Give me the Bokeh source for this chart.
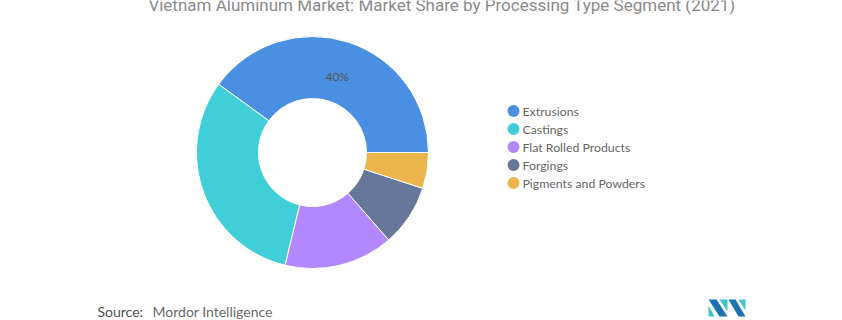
import numpy as np
from bokeh.plotting import figure
from bokeh.models import Range1d, ColumnDataSource
from bokeh.core.properties import value
from bokeh.embed import file_html
from bokeh.resources import INLINE

# ---- data ----
categories = ["Extrusions", "Castings", "Flat Rolled Products", "Forgings", "Pigments and Powders"]
shares = [40.0, 31.2, 15.2, 8.6, 5.0]
colors = ["#4A90E2", "#40CFD9", "#B388FF", "#667799", "#EBB54B"]
shown_labels = ["40%", "", "", "", ""]
title = "Vietnam Aluminum Market: Market Share by Processing Type Segment (2021)"
source_text = "Mordor Intelligence"

# ---- layout ----
W, H = 842, 320
cx, cy = 312, 152
r_out, r_in = 116, 54

p = figure(width=W, height=H, x_range=Range1d(0, W), y_range=Range1d(H, 0),
           output_backend="svg", toolbar_location=None,
           x_axis_location=None, y_axis_location=None, min_border=0)
p.grid.visible = False
p.outline_line_color = None
p.background_fill_color = "white"
p.border_fill_color = "white"

vals = np.array(shares)
frac = vals / vals.sum()
ends = np.cumsum(frac) * 2 * np.pi
starts = ends - frac * 2 * np.pi
src = ColumnDataSource(dict(start=starts, end=ends, color=colors, cat=categories))
p.annular_wedge(x=cx, y=cy, inner_radius=r_in, outer_radius=r_out,
                start_angle="start", end_angle="end", direction="anticlock",
                fill_color="color", line_color="white", line_width=1, source=src)

# percentage labels
mid = (starts + ends) / 2
r_lab = 80
lx = cx + r_lab * np.cos(mid)
ly = cy - r_lab * np.sin(mid)
p.text(x=lx, y=ly, text=shown_labels, text_align="center", text_baseline="middle",
       text_font=value("Lato"), text_font_size="12px", text_color="#555555")

# legend
n = len(categories)
leg_x = 513
leg_y = 110.5 + 18 * np.arange(n)
p.scatter(x=[leg_x] * n, y=leg_y, size=12, marker="circle", fill_color=colors, line_color=None)
p.text(x=[leg_x + 9] * n, y=leg_y, text=categories, text_baseline="middle",
       text_font=value("Lato"), text_font_size="12.3px", text_color="#666666")

# title (cut off at top, as in the reference)
p.text(x=[441.5], y=[4], text=[title], text_align="center", text_baseline="alphabetic",
       text_font=value("Roboto"), text_font_size="17px", text_color="#8a8a8a")

# source
p.text(x=[97], y=[311], text=["Source:"], text_baseline="middle",
       text_font=value("Lato"), text_font_size="14px", text_color="#4f4f4f")
p.text(x=[152], y=[311], text=[source_text], text_baseline="middle",
       text_font=value("Lato"), text_font_size="14px", text_color="#6a6a6a")

# logo
logo_dark = "#1F72B0"
logo_teal = "#3FC4CF"
xs = [[708, 708, 714], [708, 716, 727, 719], [719, 727, 727], [728, 735, 745, 738], [738, 745, 745]]
ys = [[305, 316, 316], [299, 299, 316, 316], [299, 299, 311], [299, 299, 316, 316], [299, 299, 310]]
p.patches(xs=xs, ys=ys, fill_color=[logo_teal, logo_dark, logo_teal, logo_dark, logo_teal], line_color=None)

open("out.html", "w").write(file_html(p, INLINE))
